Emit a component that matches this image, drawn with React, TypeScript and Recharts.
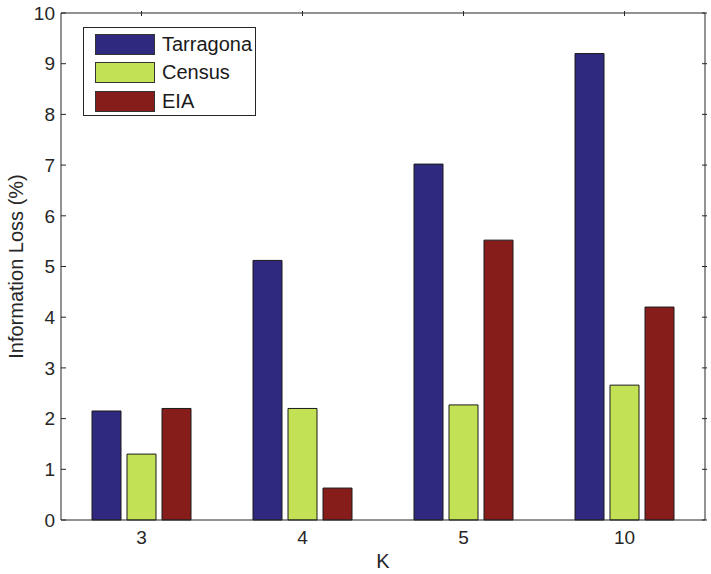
import React from 'react';
import { BarChart, Bar, XAxis, YAxis, Label } from 'recharts';

const categories = ['3', '4', '5', '10'];
const tarragona = [2.15, 5.12, 7.02, 9.2];
const census = [1.3, 2.2, 2.27, 2.66];
const eia = [2.2, 0.63, 5.52, 4.2];
const yTicks = [0, 1, 2, 3, 4, 5, 6, 7, 8, 9, 10];

const seriesNames = ['Tarragona', 'Census', 'EIA'];
const colors = ['#2f2a7f', '#c3e155', '#871d1a'];

const data = categories.map((k, i) => ({
  k,
  Tarragona: tarragona[i],
  Census: census[i],
  EIA: eia[i],
}));

const FONT = '"Liberation Sans", Arial, Helvetica, sans-serif';
const TICK_COLOR = '#262626';
const TICK_FS = 19;
const LABEL_FS = 20;

const LeftTick = (props: any) => {
  const { x, y, payload } = props;
  return (
    <g>
      <line x1={x + 6} y1={y} x2={x + 11} y2={y} stroke={TICK_COLOR} strokeWidth={1} />
      <text x={x} y={y} dy="0.355em" textAnchor="end" fontSize={TICK_FS} fontFamily={FONT} fill="#262626">
        {payload.value}
      </text>
    </g>
  );
};

const RightTick = (props: any) => {
  const { x, y } = props;
  return <line x1={x} y1={y} x2={x - 5} y2={y} stroke={TICK_COLOR} strokeWidth={1} />;
};

const TopTick = (props: any) => {
  const { x, y } = props;
  return <line x1={x} y1={y} x2={x} y2={y + 5} stroke={TICK_COLOR} strokeWidth={1} />;
};

const BottomTick = (props: any) => {
  const { x, y, payload } = props;
  return (
    <text x={x} y={y} dy="0.71em" textAnchor="middle" fontSize={TICK_FS} fontFamily={FONT} fill="#262626">
      {payload.value}
    </text>
  );
};

const LegendBox = () => (
  <div
    style={{
      position: 'absolute',
      left: 83,
      top: 27,
      border: '1px solid #262626',
      background: '#fff',
      width: 173,
      height: 89,
      boxSizing: 'border-box',
      paddingTop: 2,
      paddingLeft: 11,
      fontFamily: FONT,
      fontSize: LABEL_FS,
      color: '#1a1a1a',
    }}
  >
    {seriesNames.map((n, i) => (
      <div key={n} style={{ display: 'flex', alignItems: 'center', height: 28.5 }}>
        <div
          style={{
            width: 60,
            height: 21,
            background: colors[i],
            border: '1px solid #333',
            boxSizing: 'border-box',
            marginRight: 7,
          }}
        />
        <span>{n}</span>
      </div>
    ))}
  </div>
);

export default function App() {
  return (
    <div style={{ position: 'absolute', left: 0, top: 0, width: 711, height: 574, background: '#fff' }}>
      <BarChart
        width={711}
        height={574}
        data={data}
        margin={{ top: 12, right: 5, left: 0, bottom: 0 }}
        barSize={29}
        barGap={6}
      >
        <XAxis
          dataKey="k"
          xAxisId="bottom"
          height={54}
          tickSize={0}
          tickMargin={11}
          tick={<BottomTick />}
          axisLine={{ stroke: TICK_COLOR, strokeWidth: 1 }}
          tickLine={false}
        >
          <Label value="K" position="insideBottom" offset={6} fontSize={LABEL_FS} fontFamily={FONT} fill="#262626" />
        </XAxis>
        <XAxis
          dataKey="k"
          xAxisId="top"
          orientation="top"
          height={1}
          tickSize={0}
          tick={<TopTick />}
          axisLine={{ stroke: TICK_COLOR, strokeWidth: 1 }}
          tickLine={false}
        />
        <YAxis
          yAxisId="left"
          width={61}
          domain={[0, 10]}
          ticks={yTicks}
          interval={0}
          tickSize={0}
          tickMargin={6}
          tick={<LeftTick />}
          axisLine={{ stroke: TICK_COLOR, strokeWidth: 1 }}
          tickLine={false}
        >
          <Label
            value="Information Loss (%)"
            angle={-90}
            position="insideLeft"
            offset={16}
            style={{ textAnchor: 'middle' }}
            fontSize={LABEL_FS}
            fontFamily={FONT}
            fill="#262626"
          />
        </YAxis>
        <YAxis
          yAxisId="right"
          orientation="right"
          width={1}
          domain={[0, 10]}
          ticks={yTicks}
          interval={0}
          type="number"
          allowDataOverflow
          tickSize={0}
          tick={<RightTick />}
          axisLine={{ stroke: TICK_COLOR, strokeWidth: 1 }}
          tickLine={false}
        />
        {seriesNames.map((n, i) => (
          <Bar
            key={n}
            dataKey={n}
            xAxisId="bottom"
            yAxisId="left"
            fill={colors[i]}
            stroke="#1a1a1a"
            strokeWidth={1}
            isAnimationActive={false}
          />
        ))}
      </BarChart>
      <LegendBox />
    </div>
  );
}
